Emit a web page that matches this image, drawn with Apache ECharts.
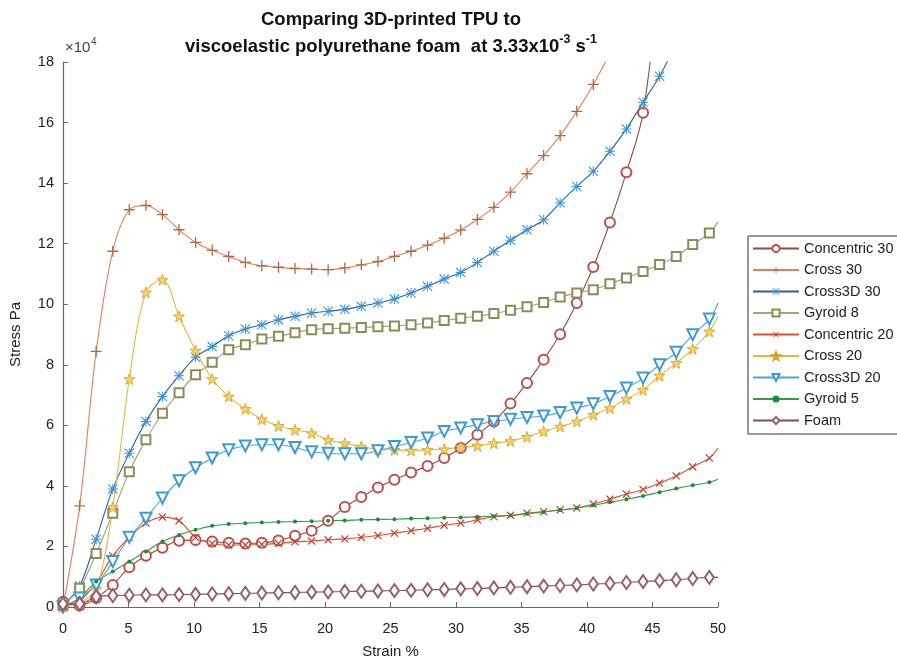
<!DOCTYPE html>
<html>
<head>
<meta charset="utf-8">
<script src="https://cdn.jsdelivr.net/npm/echarts@6/dist/echarts.min.js"></script>
<style>
html,body{margin:0;padding:0;background:#fff;}
#c{width:897px;height:658px;}
</style>
</head>
<body>
<div id="c"></div>
<script>
// Strain (%) at each sampled point (markers), last entry is the line end at 50 %
var strain = [0,1.27,2.53,3.8,5.06,6.33,7.59,8.86,10.12,11.39,12.65,13.92,15.18,16.45,17.71,18.98,20.24,21.51,22.77,24.04,25.3,26.57,27.83,29.1,30.36,31.63,32.89,34.16,35.42,36.69,37.95,39.22,40.48,41.75,43.01,44.28,45.54,46.81,48.07,49.34,50];
var xTicks = [0,5,10,15,20,25,30,35,40,45,50];
var yTicks = [0,2,4,6,8,10,12,14,16,18];
// Stress values in units of 1e4 Pa
var concentric30 = [0.17,0.05,0.3,0.73,1.31,1.69,1.96,2.19,2.21,2.16,2.12,2.1,2.12,2.2,2.35,2.52,2.85,3.3,3.63,3.95,4.2,4.44,4.66,4.92,5.25,5.69,6.13,6.72,7.4,8.17,9.01,10.04,11.23,12.7,14.36,16.32,21];
var cross30 = [0,3.34,8.44,11.75,13.12,13.26,12.96,12.46,12.04,11.78,11.58,11.38,11.27,11.22,11.18,11.16,11.14,11.2,11.3,11.41,11.58,11.75,11.95,12.18,12.45,12.8,13.2,13.7,14.31,14.91,15.57,16.37,17.26,18.3,19.5];
var cross3d30 = [0.05,0.69,2.24,3.9,5.08,6.13,6.95,7.64,8.25,8.6,8.96,9.18,9.32,9.49,9.6,9.71,9.77,9.83,9.93,10.04,10.17,10.37,10.59,10.83,11.05,11.38,11.75,12.11,12.46,12.79,13.35,13.89,14.39,15.05,15.79,16.67,17.53,18.6];
var gyroid8 = [0.05,0.62,1.77,3.1,4.47,5.52,6.4,7.08,7.67,8.08,8.5,8.66,8.85,8.94,9.06,9.16,9.19,9.21,9.23,9.26,9.28,9.32,9.38,9.46,9.54,9.6,9.69,9.8,9.92,10.06,10.24,10.37,10.48,10.68,10.87,11.08,11.31,11.58,11.97,12.35,12.72];
var concentric20 = [0.05,0.2,0.8,1.69,2.3,2.77,2.97,2.85,2.3,2.1,2.05,2.05,2.07,2.1,2.15,2.18,2.22,2.25,2.3,2.36,2.44,2.52,2.6,2.7,2.77,2.88,2.98,3.03,3.1,3.15,3.21,3.27,3.4,3.56,3.73,3.88,4.09,4.33,4.63,4.92,5.25];
var cross20 = [0,0.15,0.6,3.3,7.53,10.39,10.81,9.6,8.47,7.53,6.95,6.54,6.2,5.98,5.85,5.74,5.52,5.41,5.3,5.21,5.19,5.17,5.19,5.21,5.28,5.32,5.41,5.48,5.62,5.8,5.96,6.13,6.35,6.57,6.87,7.17,7.64,8.06,8.52,9.1,9.6];
var cross3d20 = [0,0.3,0.73,1.5,2.3,2.93,3.6,4.17,4.6,4.92,5.19,5.32,5.36,5.36,5.27,5.13,5.08,5.06,5.06,5.16,5.3,5.43,5.58,5.8,5.91,6.02,6.13,6.2,6.26,6.31,6.42,6.57,6.71,6.95,7.23,7.56,8.0,8.41,8.99,9.51,10.04];
var gyroid5 = [0,0.3,0.84,1.17,1.5,1.83,2.16,2.38,2.55,2.68,2.74,2.77,2.79,2.81,2.82,2.83,2.85,2.86,2.88,2.89,2.9,2.92,2.93,2.95,2.96,2.98,3.0,3.02,3.08,3.14,3.2,3.27,3.36,3.46,3.56,3.67,3.79,3.91,4.02,4.12,4.22];
var foam = [0.1,0.1,0.34,0.38,0.39,0.4,0.4,0.41,0.42,0.43,0.44,0.45,0.46,0.47,0.48,0.49,0.5,0.51,0.52,0.53,0.54,0.55,0.57,0.58,0.6,0.61,0.63,0.65,0.67,0.69,0.71,0.73,0.76,0.78,0.81,0.84,0.87,0.9,0.94,0.98,0.98];
var seriesNames = ['Concentric 30','Cross 30','Cross3D 30','Gyroid 8','Concentric 20','Cross 20','Cross3D 20','Gyroid 5','Foam'];

var FONT = 'Liberation Sans, Arial, sans-serif';
var PLUS = 'path://M4.4,0 L5.6,0 L5.6,4.4 L10,4.4 L10,5.6 L5.6,5.6 L5.6,10 L4.4,10 L4.4,5.6 L0,5.6 L0,4.4 L4.4,4.4 Z';
var ASTER = 'path://M4.5,0 L5.5,0 L5.5,10 L4.5,10 Z M0,4.5 L10,4.5 L10,5.5 L0,5.5 Z M0.8,0 L10,9.2 L9.2,10 L0,0.8 Z M9.2,0 L10,0.8 L0.8,10 L0,9.2 Z';
var STAR = 'path://M5,0 L6.18,3.38 L9.76,3.45 L6.9,5.62 L7.94,9.05 L5,7 L2.06,9.05 L3.1,5.62 L0.24,3.45 L3.82,3.38 Z';

function mk(vals){
  return vals.map(function(v,i){
    var d = {value:[strain[i], v]};
    if (i === 40) d.symbol = 'none';
    return d;
  });
}
function ser(name, vals, lineColor, opts){
  var s = {
    name: name, type: 'line', data: mk(vals), smooth: 0.35, clip: true,
    lineStyle: {color: lineColor, width: 1.1},
    showAllSymbol: true, animation: false
  };
  for (var k in opts) s[k] = opts[k];
  return s;
}

var chart = echarts.init(document.getElementById('c'), null, {renderer:'canvas'});
var option = {
  backgroundColor: '#fff',
  animation: false,
  title: {
    text: 'Comparing 3D-printed TPU to\nviscoelastic polyurethane foam  at 3.33x10{sup|-3} s{sup|-1}',
    left: 386, top: 1, textAlign: 'center',
    textStyle: {
      fontFamily: FONT, fontWeight: 'bold', fontSize: 18.5, color: '#111', lineHeight: 27,
      rich: { sup: {fontFamily: FONT, fontWeight: 'bold', fontSize: 12.5, color: '#111', verticalAlign: 'top', lineHeight: 27, padding:[0,0,9,0]} }
    }
  },
  grid: {left: 63, right: 179, top: 62, bottom: 51, containLabel: false, outerBoundsMode: 'none'},
  legend: {
    orient: 'vertical', left: 748, top: 236,
    itemWidth: 46, itemHeight: 9, itemGap: 6.5,
    padding: [5, 40, 6, 4],
    borderColor: '#333', borderWidth: 1, backgroundColor: '#fff',
    textStyle: {fontFamily: FONT, fontSize: 14.5, color: '#222'},
    data: seriesNames
  },
  graphic: [
    {type: 'text', left: 65, top: 40, style: {text: '×10', font: '15px ' + FONT, fill: '#444'}},
    {type: 'text', left: 91, top: 37, style: {text: '4', font: '10px ' + FONT, fill: '#444'}}
  ],
  xAxis: {
    type: 'value', min: 0, max: 50, interval: 5,
    name: 'Strain %', nameLocation: 'middle', nameGap: 37,
    nameTextStyle: {fontFamily: FONT, fontSize: 15, color: '#222'},
    axisLine: {show: true, lineStyle: {color: '#666', width: 1.2}},
    axisTick: {show: true, inside: true, length: 5, lineStyle: {color: '#666'}},
    axisLabel: {fontFamily: FONT, fontSize: 14.5, color: '#222', margin: 14,
      formatter: function(v){ return xTicks.indexOf(v) >= 0 ? String(v) : ''; }},
    splitLine: {show: false}
  },
  yAxis: {
    type: 'value', min: 0, max: 18, interval: 2,
    name: 'Stress Pa', nameLocation: 'middle', nameGap: 40,
    nameTextStyle: {fontFamily: FONT, fontSize: 15, color: '#222'},
    axisLine: {show: true, lineStyle: {color: '#666', width: 1.2}},
    axisTick: {show: true, inside: true, length: 5, lineStyle: {color: '#666'}},
    axisLabel: {fontFamily: FONT, fontSize: 14.5, color: '#222', margin: 9,
      formatter: function(v){ return yTicks.indexOf(v) >= 0 ? String(v) : ''; }},
    splitLine: {show: false}
  },
  series: [
    ser(seriesNames[0], concentric30, '#8f4c47', {symbol: 'emptyCircle', symbolSize: 10, itemStyle: {color: '#b9504c', borderWidth: 1}}),
    ser(seriesNames[1], cross30, '#d9825b', {symbol: PLUS, symbolSize: 11, itemStyle: {color: '#b8683f'}}),
    ser(seriesNames[2], cross3d30, '#2a62a0', {symbol: ASTER, symbolSize: 10, itemStyle: {color: '#3d94d8'}}),
    ser(seriesNames[3], gyroid8, '#a5a27c', {symbol: 'emptyRect', symbolSize: 9, itemStyle: {color: '#8c8c58', borderWidth: 1}}),
    ser(seriesNames[4], concentric20, '#e0502c', {symbol: PLUS, symbolRotate: 45, symbolSize: 10, itemStyle: {color: '#c0432b'}}),
    ser(seriesNames[5], cross20, '#e8b640', {symbol: STAR, symbolSize: 11, itemStyle: {color: '#f4d468', borderColor: '#d19a22', borderWidth: 0.8}}),
    ser(seriesNames[6], cross3d20, '#47a6dc', {symbol: 'emptyTriangle', symbolRotate: 180, symbolSize: 11, itemStyle: {color: '#3d9ad4', borderWidth: 1}}),
    ser(seriesNames[7], gyroid5, '#2f9e48', {symbol: 'circle', symbolSize: 4, itemStyle: {color: '#1f8a38'}}),
    ser(seriesNames[8], foam, '#7d5060', {symbol: 'emptyDiamond', symbolSize: [9, 13], itemStyle: {color: '#9a5b6d', borderWidth: 1}})
  ]
};
chart.setOption(option);
</script>
</body>
</html>
